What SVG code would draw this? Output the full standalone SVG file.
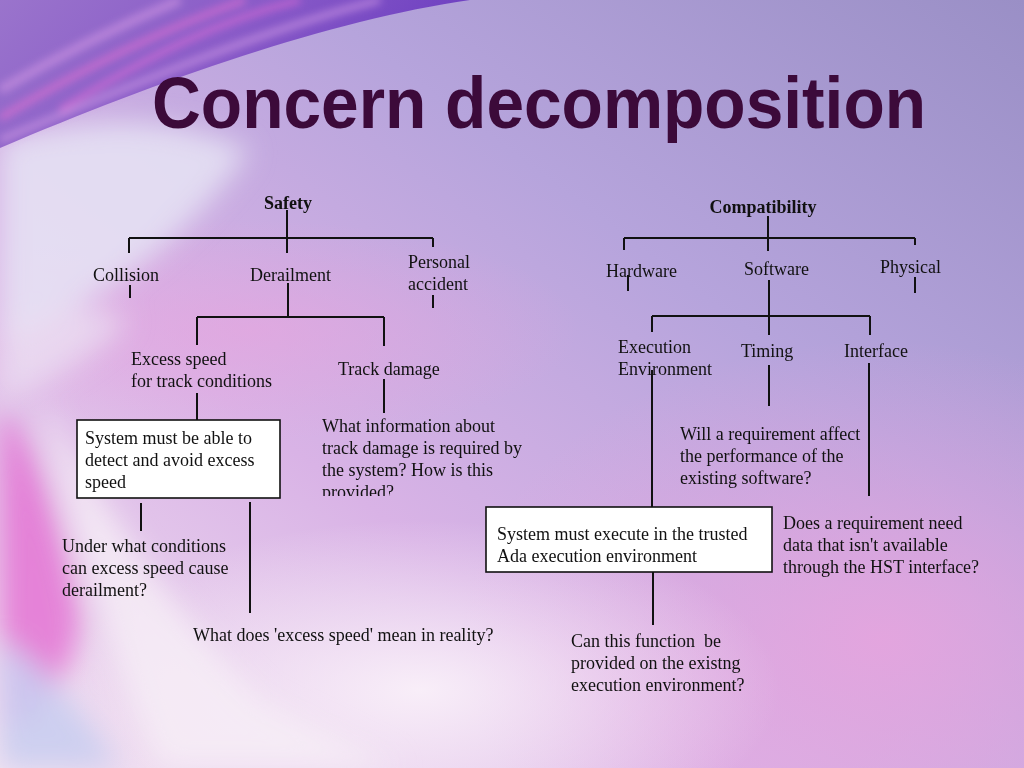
<svg xmlns="http://www.w3.org/2000/svg" width="1024" height="768" viewBox="0 0 1024 768">
<defs>
<linearGradient id="bg" x1="1" y1="0" x2="0" y2="1">
<stop offset="0" stop-color="#9a8fc6"/>
<stop offset="0.35" stop-color="#b6a4dc"/>
<stop offset="0.65" stop-color="#d9b3e6"/>
<stop offset="1" stop-color="#f3e4f2"/>
</linearGradient>
<radialGradient id="pink" cx="0.5" cy="0.5" r="0.5">
<stop offset="0" stop-color="#e8a4de" stop-opacity="0.85"/>
<stop offset="1" stop-color="#e8a4de" stop-opacity="0"/>
</radialGradient>
<radialGradient id="pale" cx="0.5" cy="0.5" r="0.5">
<stop offset="0" stop-color="#fbf3fa" stop-opacity="0.9"/>
<stop offset="1" stop-color="#fbf3fa" stop-opacity="0"/>
</radialGradient>
<linearGradient id="swoosh" x1="0" y1="0" x2="1" y2="0.3">
<stop offset="0" stop-color="#9a74cc"/>
<stop offset="0.5" stop-color="#8a5cc8"/>
<stop offset="1" stop-color="#6a3cc0"/>
</linearGradient>
<filter id="blur" x="-20%" y="-20%" width="140%" height="140%"><feGaussianBlur stdDeviation="14"/></filter>
<filter id="blur2" x="-20%" y="-20%" width="140%" height="140%"><feGaussianBlur stdDeviation="4"/></filter>
<clipPath id="clipQ"><rect x="300" y="405" width="240" height="91"/></clipPath>
<style>
.t{font-family:"Liberation Serif","Times New Roman",serif;font-size:18px;fill:#111;}
.b{font-weight:bold;}
.ttl{font-family:"Liberation Sans",Arial,sans-serif;font-weight:bold;font-size:72px;fill:#3c0a3a;}
.c{fill:none;stroke:#111;stroke-width:2;}
.box{fill:#fff;stroke:#111;stroke-width:1.6;}
</style>
</defs>

<!-- background -->
<rect width="1024" height="768" fill="url(#bg)"/>
<ellipse cx="880" cy="640" rx="420" ry="300" fill="url(#pink)"/>
<ellipse cx="250" cy="330" rx="330" ry="110" fill="url(#pink)" opacity="0.7"/>
<ellipse cx="420" cy="690" rx="360" ry="170" fill="url(#pale)"/>
<g filter="url(#blur)">
<path d="M0,140 C80,120 160,110 250,150 C200,220 120,300 0,340 Z" fill="#e6e4f4" opacity="0.85"/>
<path d="M0,330 C40,310 90,300 130,320 C100,350 60,380 0,400 Z" fill="#ece4f4" opacity="0.7"/>
<path d="M0,410 C30,430 60,520 80,620 C70,680 40,720 0,730 Z" fill="#e46ed2" opacity="0.8"/>
<path d="M40,400 C90,480 160,600 260,700 L400,768 L160,768 C120,680 80,560 40,400 Z" fill="#f6eef6" opacity="0.8"/>
<path d="M0,640 C40,660 90,720 120,768 L0,768 Z" fill="#c9cdf0" opacity="0.9"/>
</g>
<path d="M0,0 L470,0 C330,20 160,80 0,148 Z" fill="url(#swoosh)"/>
<g filter="url(#blur2)" opacity="0.8">
<path d="M0,118 C80,70 160,30 245,0" fill="none" stroke="#e070d0" stroke-width="6"/>
<path d="M0,90 C60,55 120,25 180,0" fill="none" stroke="#c890e0" stroke-width="8"/>
<path d="M60,110 C150,55 220,20 300,0" fill="none" stroke="#f070d8" stroke-width="4"/>
<path d="M0,140 C120,90 260,30 380,0" fill="none" stroke="#d8a0e8" stroke-width="5"/>
</g>

<!-- title -->
<text class="ttl" x="152" y="128" textLength="774" lengthAdjust="spacingAndGlyphs">Concern decomposition</text>

<!-- connectors -->
<g id="connectors" class="c">
<path class="c" d="M287,210 V253 M129,238 H433 M129,238 V253 M433,238 V247"/>
<path class="c" d="M130,285 V298 M288,283 V317 M197,317 H384 M197,317 V345 M384,317 V346 M433,295 V308"/>
<path class="c" d="M197,393 V420 M384,379 V413 M141,503 V531 M250,502 V613"/>
<path class="c" d="M768,216 V251 M624,238 H915 M624,238 V250 M915,238 V245"/>
<path class="c" d="M628,275 V291 M769,280 V335 M652,316 H870 M652,316 V332 M870,316 V335 M915,277 V293"/>
<path class="c" d="M652,370 V507 M769,365 V406 M869,363 V496 M653,572 V625"/>
</g>

<!-- Safety tree -->
<g id="safety"><text class="t b" x="288" y="209" text-anchor="middle">Safety</text></g>
<g id="collision"><text class="t" x="93" y="281">Collision</text></g>
<g id="derailment"><text class="t" x="250" y="281">Derailment</text></g>
<g id="personal-accident"><text class="t" x="408" y="268">Personal</text><text class="t" x="408" y="290">accident</text></g>
<g id="excess-speed"><text class="t" x="131" y="365">Excess speed</text><text class="t" x="131" y="387">for track conditions</text></g>
<g id="track-damage"><text class="t" x="338" y="375">Track damage</text></g>
<g id="track-question" clip-path="url(#clipQ)">
<text class="t" x="322" y="432">What information about</text>
<text class="t" x="322" y="454">track damage is required by</text>
<text class="t" x="322" y="476">the system? How is this</text>
<text class="t" x="322" y="498">provided?</text>
</g>
<g id="detect-box">
<rect class="box" x="77" y="420" width="203" height="78"/>
<text class="t" x="85" y="444">System must be able to</text>
<text class="t" x="85" y="466">detect and avoid excess</text>
<text class="t" x="85" y="488">speed</text>
</g>
<g id="conditions-question">
<text class="t" x="62" y="552">Under what conditions</text>
<text class="t" x="62" y="574">can excess speed cause</text>
<text class="t" x="62" y="596">derailment?</text>
</g>
<g id="meaning-question"><text class="t" x="193" y="641">What does 'excess speed' mean in reality?</text></g>

<!-- Compatibility tree -->
<g id="compatibility"><text class="t b" x="763" y="213" text-anchor="middle">Compatibility</text></g>
<g id="hardware"><text class="t" x="606" y="277">Hardware</text></g>
<g id="software"><text class="t" x="744" y="275">Software</text></g>
<g id="physical"><text class="t" x="880" y="273">Physical</text></g>
<g id="execution-environment"><text class="t" x="618" y="353">Execution</text><text class="t" x="618" y="375">Environment</text></g>
<g id="timing"><text class="t" x="741" y="357">Timing</text></g>
<g id="interface"><text class="t" x="844" y="357">Interface</text></g>
<g id="performance-question">
<text class="t" x="680" y="440">Will a requirement affect</text>
<text class="t" x="680" y="462">the performance of the</text>
<text class="t" x="680" y="484">existing software?</text>
</g>
<g id="ada-box">
<rect class="box" x="486" y="507" width="286" height="65"/>
<text class="t" x="497" y="540">System must execute in the trusted</text>
<text class="t" x="497" y="562">Ada execution environment</text>
</g>
<g id="data-question">
<text class="t" x="783" y="529">Does a requirement need</text>
<text class="t" x="783" y="551">data that isn't available</text>
<text class="t" x="783" y="573">through the HST interface?</text>
</g>
<g id="function-question">
<text class="t" x="571" y="647" xml:space="preserve">Can this function  be</text>
<text class="t" x="571" y="669">provided on the existng</text>
<text class="t" x="571" y="691">execution environment?</text>
</g>
</svg>
